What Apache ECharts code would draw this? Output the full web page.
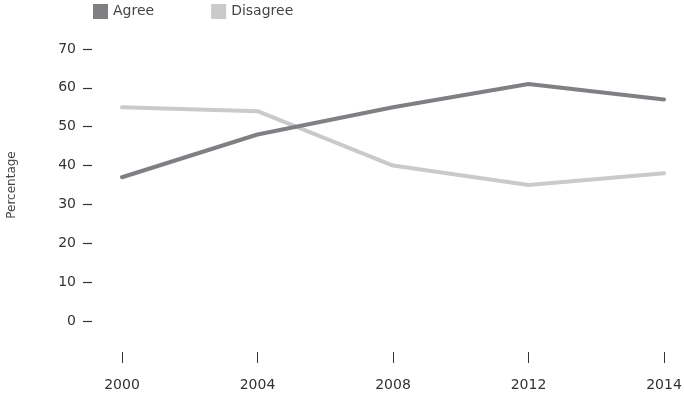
<!DOCTYPE html>
<html>
<head>
<meta charset="utf-8">
<script src="https://cdn.jsdelivr.net/npm/echarts@6/dist/echarts.min.js"></script>
<style>
html,body{margin:0;padding:0;background:#fff;}
#c{width:684px;height:395px;}
</style>
</head>
<body>
<div id="c"></div>
<script>
var years = ['2000', '2004', '2008', '2012', '2014'];
var agree = [37, 48, 55, 61, 57];
var disagree = [55, 54, 40, 35, 38];
var seriesNames = ['Agree', 'Disagree'];
var yTicks = [0, 10, 20, 30, 40, 50, 60, 70];

var font = 'DejaVu Sans';
var chart = echarts.init(document.getElementById('c'));
chart.setOption({
  animation: false,
  backgroundColor: '#fff',
  textStyle: { fontFamily: font },
  legend: {
    top: 4, left: 93, padding: 0,
    itemWidth: 15, itemHeight: 15, itemGap: 57,
    icon: 'rect',
    textStyle: { color: '#444', fontSize: 14, fontFamily: font },
    data: [
      { name: seriesNames[0], itemStyle: { color: '#808084' } },
      { name: seriesNames[1], itemStyle: { color: '#cacacc' } }
    ]
  },
  grid: { left: 122, right: 20, top: 49, bottom: 74, outerBoundsMode: 'none', containLabel: false },
  xAxis: {
    type: 'category', data: years, boundaryGap: false,
    offset: 31,
    axisLine: { show: false, onZero: false },
    axisTick: { show: true, length: 11, lineStyle: { color: '#333', width: 1 } },
    axisLabel: { margin: 26, color: '#333', fontSize: 14, fontFamily: font },
    splitLine: { show: false }
  },
  yAxis: {
    type: 'value', min: yTicks[0], max: yTicks[yTicks.length - 1], interval: 10,
    offset: 30,
    name: 'Percentage', nameLocation: 'middle', nameRotate: 90, nameGap: 74,
    nameTextStyle: { color: '#444', fontSize: 12, fontFamily: font },
    axisLine: { show: false, onZero: false },
    axisTick: { show: true, length: 9, lineStyle: { color: '#333', width: 1.2 } },
    axisLabel: { margin: 16, color: '#333', fontSize: 14, fontFamily: font },
    splitLine: { show: false }
  },
  series: [
    { name: seriesNames[0], type: 'line', data: agree, symbol: 'none',
      color: '#808084',
      lineStyle: { width: 4, color: '#808084', cap: 'round', join: 'round' }, z: 3 },
    { name: seriesNames[1], type: 'line', data: disagree, symbol: 'none',
      color: '#cacacc',
      lineStyle: { width: 4, color: '#cacacc', cap: 'round', join: 'round' }, z: 2 }
  ]
});
</script>
</body>
</html>
